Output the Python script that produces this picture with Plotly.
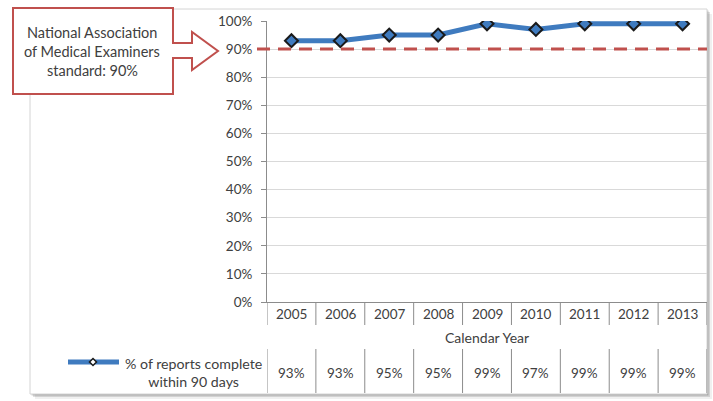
import plotly.graph_objects as go

# data
years = ["2005", "2006", "2007", "2008", "2009", "2010", "2011", "2012", "2013"]
pct_complete = [0.93, 0.93, 0.95, 0.95, 0.99, 0.97, 0.99, 0.99, 0.99]
standard = 0.90
series_name = ["% of reports complete", "within 90 days"]
callout_text = ["National Association", "of Medical Examiners", "standard: 90%"]

W, H = 713, 401
L, R, T, B = 267, 707, 21, 302  # plot area in pixels

BLUE = "#3F7BBF"
RED = "#C0504D"
TXT = "#404040"
AX = "#8C8C8C"
FONT = "Lato, Carlito, Calibri, sans-serif"


def px(x):
    return (x - L) / (R - L)


def py(y):
    return (B - y) / (B - T)


def path(points):
    return "M " + " L ".join(f"{px(x):.5f},{py(y):.5f}" for x, y in points) + " Z"


fig = go.Figure()

fig.add_trace(go.Scatter(
    x=years, y=pct_complete, mode="lines+markers",
    line=dict(color=BLUE, width=5),
    marker=dict(symbol="diamond", size=10, color=BLUE,
                line=dict(color="#1A1A1A", width=2)),
    showlegend=False, hoverinfo="skip",
))

shapes = []
# chart frame with soft shadow
for off, a in [(5, 0.06), (3, 0.12), (1.5, 0.18)]:
    shapes.append(dict(type="rect", xref="paper", yref="paper", layer="below",
                       x0=px(30 + off), x1=px(707 + off), y0=py(9 + off), y1=py(394 + off),
                       fillcolor=f"rgba(0,0,0,{a})", line=dict(width=0)))
shapes.append(dict(type="rect", xref="paper", yref="paper", layer="below",
                   x0=px(30), x1=px(707), y0=py(9), y1=py(394),
                   fillcolor="white", line=dict(color="#D4D4D4", width=1)))

# standard line
shapes.append(dict(type="line", xref="paper", yref="y", x0=px(257), x1=1,
                   y0=standard, y1=standard,
                   line=dict(color=RED, width=3, dash="13px,8px")))

# data table separators
for i in range(len(years) + 1):
    shapes.append(dict(type="line", xref="x", yref="paper", x0=i - 0.5, x1=i - 0.5,
                       y0=py(302), y1=py(325), line=dict(color=AX, width=1)))
    shapes.append(dict(type="line", xref="x", yref="paper", x0=i - 0.5, x1=i - 0.5,
                       y0=py(349), y1=py(393), line=dict(color=AX, width=1)))

# legend key
shapes.append(dict(type="line", xref="paper", yref="paper", x0=px(68), x1=px(119),
                   y0=py(362), y1=py(362), line=dict(color=BLUE, width=5)))
shapes.append(dict(type="path", xref="paper", yref="paper",
                   path=path([(93, 358.5), (96.5, 362), (93, 365.5), (89.5, 362)]),
                   fillcolor="white", line=dict(color="#1A1A1A", width=1.5)))

# callout box with arrow
shapes.append(dict(type="path", xref="paper", yref="paper",
                   path=path([(13, 8), (173, 8), (173, 43), (192, 43), (192, 32), (218, 51),
                              (192, 70), (192, 58), (173, 58), (173, 94), (13, 94)]),
                   fillcolor="white", line=dict(color=RED, width=2)))

annotations = []
for i, line in enumerate(callout_text):
    annotations.append(dict(xref="paper", yref="paper", x=px(92), y=py(33 + 18.5 * i),
                            text=line, showarrow=False, xanchor="center", yanchor="middle",
                            font=dict(size=14.5, color=TXT)))

# data table: category index positions on the x axis
for i, (yr, v) in enumerate(zip(years, pct_complete)):
    annotations.append(dict(xref="x", yref="paper", x=i, y=py(314), text=yr,
                            showarrow=False, yanchor="middle",
                            font=dict(size=13.5, color=TXT)))
    annotations.append(dict(xref="x", yref="paper", x=i, y=py(373), text=f"{v:.0%}",
                            showarrow=False, yanchor="middle",
                            font=dict(size=13.5, color=TXT)))

annotations.append(dict(xref="paper", yref="paper", x=0.5, y=py(337), text="Calendar Year",
                        showarrow=False, yanchor="middle", font=dict(size=14, color=TXT)))
annotations.append(dict(xref="paper", yref="paper", x=px(193), y=py(372),
                        text="<br>".join(series_name), showarrow=False, align="center",
                        xanchor="center", yanchor="middle",
                        font=dict(size=14.2, color=TXT)))

fig.update_layout(
    width=W, height=H,
    margin=dict(l=L, r=W - R, t=T, b=H - B),
    paper_bgcolor="white", plot_bgcolor="rgba(0,0,0,0)",
    font=dict(family=FONT, size=13, color=TXT),
    shapes=shapes, annotations=annotations,
    xaxis=dict(type="category", range=[-0.5, len(years) - 0.5], showticklabels=False,
               showgrid=False, zeroline=False, showline=True, linecolor=AX, linewidth=1,
               fixedrange=True),
    yaxis=dict(range=[0, 1], dtick=0.1, tickformat=".0%", showgrid=True,
               gridcolor="#D9D9D9", gridwidth=1, zeroline=False, showline=True,
               linecolor=AX, linewidth=1, ticks="outside", ticklen=5, tickcolor=AX,
               ticklabelstandoff=6, tickfont=dict(size=13.5, color=TXT), fixedrange=True),
)

# page body has a default margin; drop it so the figure sits at 0,0
fig.write_html("out.html", config={"displayModeBar": False},
               post_script="document.body.style.margin='0px';")
